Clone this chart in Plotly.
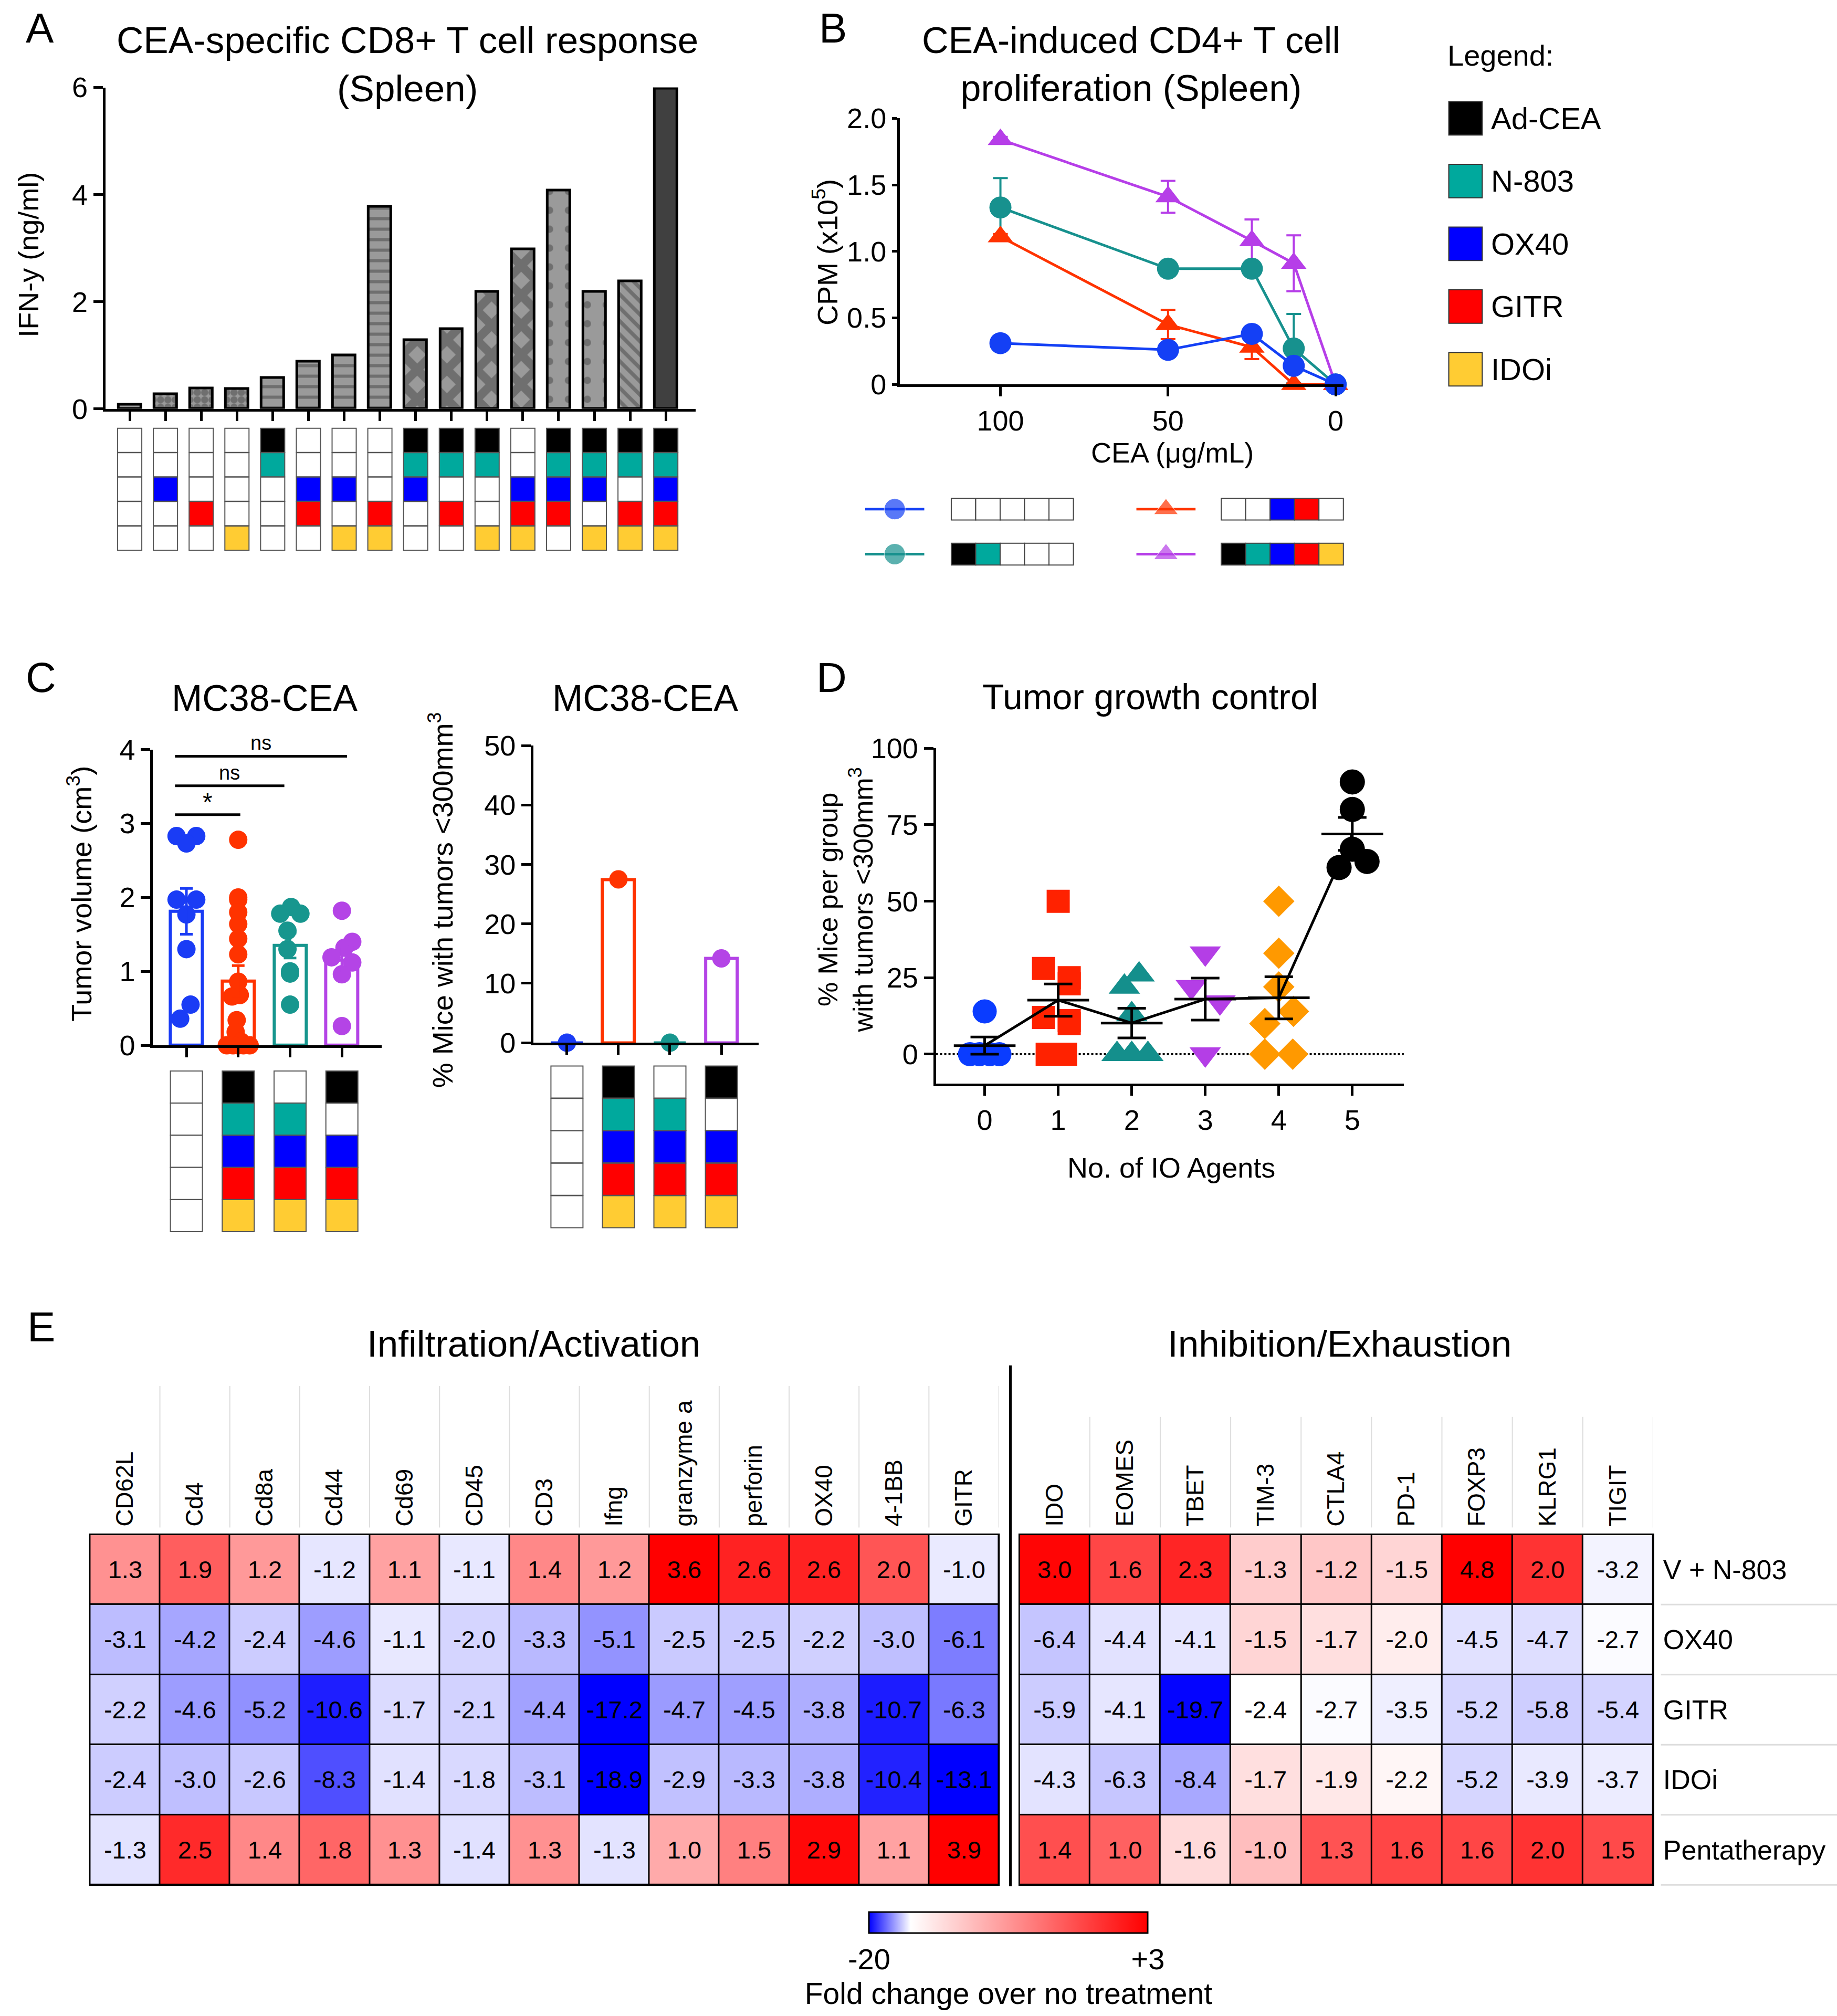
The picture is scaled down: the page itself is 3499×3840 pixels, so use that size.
import numpy as np
import plotly.graph_objects as go

W, H = 3499, 3840
RW, RH = 1429, 1568  # layout grid, same proportions as the figure


def fx(x):
    return x / RW


def fy(y):
    return 1 - y / RH


FONT = "Liberation Sans, Arial, Helvetica, sans-serif"
TICK = 54

# ---------------- shared treatment key ----------------
agents = ["Ad-CEA", "N-803", "OX40", "GITR", "IDOi"]
agent_colors = ["#000000", "#00a99d", "#0000ff", "#ff0000", "#ffcc33"]

# ---------------- A: IFN-y per treatment ----------------
a_ifng = [0.08, 0.28, 0.38, 0.37, 0.58, 0.88, 1.0, 3.78, 1.29, 1.49, 2.19, 2.98, 4.08, 2.19, 2.38, 5.98]
a_combos = ["00000", "00100", "00010", "00001", "11000", "00110", "00101", "00011",
            "11100", "11010", "11001", "00111", "11110", "11101", "11011", "11111"]
a_pattern = ["", ".", ".", ".", "-", "-", "-", "-", "x", "x", "x", "x", ".", ".", "\\", ""]
a_pattern_size = [10, 14, 14, 14, 20, 20, 20, 20, 40, 40, 40, 40, 36, 36, 18, 10]
a_pattern_solid = [0.3, 0.75, 0.75, 0.75, 0.3, 0.3, 0.3, 0.3, 0.65, 0.65, 0.65, 0.65, 0.12, 0.12, 0.4, 0.3]
a_fill = ["#9a9a9a"] * 15 + ["#404040"]

# ---------------- B: CD4 proliferation ----------------
b_conc = [100, 50, 25, 12.5, 0]
b_untreated = [0.31, 0.26, 0.38, 0.14, 0.0]
b_untreated_err = [0.01, 0.01, 0.02, 0.02, 0.0]
b_vn803 = [1.33, 0.87, 0.87, 0.27, 0.0]
b_vn803_err = [0.22, 0.02, 0.02, 0.26, 0.0]
b_ox40_gitr = [1.11, 0.45, 0.28, 0.0, 0.0]
b_ox40_gitr_err = [0.02, 0.11, 0.09, 0.0, 0.0]
b_penta = [1.84, 1.41, 1.08, 0.91, 0.0]
b_penta_err = [0.02, 0.12, 0.16, 0.21, 0.0]
b_combos = ["00000", "11000", "00110", "11111"]

# ---------------- C: tumor volume / % mice ----------------
c_combos = ["00000", "11111", "01111", "10111"]
c_colors = ["#1a3cf5", "#ff3300", "#17968e", "#b444e6"]
c_vol_untreated = [2.83, 2.83, 2.73, 1.97, 1.97, 1.77, 1.30, 0.55, 0.36]
c_jit_untreated = [-0.19, 0.19, 0.0, -0.19, 0.19, 0.0, 0.0, 0.08, -0.12]
c_vol_penta = [2.78, 2.0, 1.97, 1.8, 1.64, 1.44, 1.23, 0.86, 0.68, 0.66, 0.34, 0.18, 0.05, 0, 0, 0, 0, 0]
c_jit_penta = [0, 0, 0, 0, 0, 0, 0, 0, 0.03, -0.12, -0.03, -0.05, 0.05, -0.22, -0.1, 0, 0.1, 0.22]
c_vol_no_vaccine = [1.87, 1.78, 1.78, 1.55, 1.3, 1.0, 0.97, 0.55]
c_jit_no_vaccine = [0.02, -0.19, 0.2, -0.05, -0.05, 0.0, 0.0, 0.0]
c_vol_no_n803 = [1.82, 1.40, 1.32, 1.19, 1.12, 0.96, 0.26]
c_jit_no_n803 = [0.0, 0.2, 0.05, -0.2, 0.2, 0.0, 0.0]
c_pct = [0, 27.5, 0, 14.2]
c_sig_x0 = [-0.22, -0.22, -0.22]
c_sig_x1 = [1.04, 1.89, 3.1]
c_sig_y = [3.12, 3.51, 3.91]
c_sig_text = ["*", "ns", "ns"]

# ---------------- D: tumor growth control ----------------
d_agents = [0, 1, 2, 3, 4, 5]
d_vals = [
    [14, 0, 0, 0, 0],
    [50, 28, 25, 23, 12, 11, 10, 0, 0],
    [26, 22, 13, 0, 0, 0],
    [33, 22, 17, 0],
    [50, 33, 22, 14, 10, 0, 0],
    [89, 80, 67, 61, 63],
]
d_jit = [
    [0, -0.2, -0.07, 0.07, 0.2],
    [0, -0.2, 0.15, 0.15, -0.2, 0.15, 0.15, -0.15, 0.1],
    [0.1, -0.1, 0, -0.2, 0, 0.22],
    [0, -0.19, 0.2, 0],
    [0, 0, 0, 0.2, -0.19, -0.19, 0.19],
    [0, 0, 0, -0.18, 0.2],
]
d_symbols = ["circle", "square", "triangle-up", "triangle-down", "diamond", "circle"]
d_colors = ["#0a3cff", "#ff2200", "#148f8c", "#b43ee6", "#ff9900", "#000000"]
d_sizes = [46, 44, 52, 52, 46, 48]

# ---------------- E: fold change heatmap ----------------
e_rows = ["V + N-803", "OX40", "GITR", "IDOi", "Pentatherapy"]
e_left_cols = ["CD62L", "Cd4", "Cd8a", "Cd44", "Cd69", "CD45", "CD3", "Ifng", "granzyme a",
               "perforin", "OX40", "4-1BB", "GITR"]
e_left = [
    [1.3, 1.9, 1.2, -1.2, 1.1, -1.1, 1.4, 1.2, 3.6, 2.6, 2.6, 2.0, -1.0],
    [-3.1, -4.2, -2.4, -4.6, -1.1, -2.0, -3.3, -5.1, -2.5, -2.5, -2.2, -3.0, -6.1],
    [-2.2, -4.6, -5.2, -10.6, -1.7, -2.1, -4.4, -17.2, -4.7, -4.5, -3.8, -10.7, -6.3],
    [-2.4, -3.0, -2.6, -8.3, -1.4, -1.8, -3.1, -18.9, -2.9, -3.3, -3.8, -10.4, -13.1],
    [-1.3, 2.5, 1.4, 1.8, 1.3, -1.4, 1.3, -1.3, 1.0, 1.5, 2.9, 1.1, 3.9],
]
e_right_cols = ["IDO", "EOMES", "TBET", "TIM-3", "CTLA4", "PD-1", "FOXP3", "KLRG1", "TIGIT"]
e_right = [
    [3.0, 1.6, 2.3, -1.3, -1.2, -1.5, 4.8, 2.0, -3.2],
    [-6.4, -4.4, -4.1, -1.5, -1.7, -2.0, -4.5, -4.7, -2.7],
    [-5.9, -4.1, -19.7, -2.4, -2.7, -3.5, -5.2, -5.8, -5.4],
    [-4.3, -6.3, -8.4, -1.7, -1.9, -2.2, -5.2, -3.9, -3.7],
    [1.4, 1.0, -1.6, -1.0, 1.3, 1.6, 1.6, 2.0, 1.5],
]

fig = go.Figure()
annots = []
shapes = []


def label(text, x, y, size=TICK, xanchor="center", yanchor="middle", angle=0):
    annots.append(dict(text=text, x=fx(x), y=fy(y), xref="paper", yref="paper",
                       xanchor=xanchor, yanchor=yanchor, textangle=angle, showarrow=False,
                       font=dict(size=size, color="black")))


def matrix_trace(combos, xa, ya, size):
    mx, my, mc = [], [], []
    for i, combo in enumerate(combos):
        for r, flag in enumerate(combo):
            mx.append(i)
            my.append(r)
            mc.append(agent_colors[r] if flag == "1" else "white")
    return go.Scatter(x=mx, y=my, mode="markers", xaxis=xa, yaxis=ya, cliponaxis=False,
                      marker=dict(symbol="square", size=size, color=mc,
                                  line=dict(color="#555555", width=2)),
                      hoverinfo="skip", showlegend=False)


# ---- A ----
fig.add_trace(go.Bar(
    x=list(range(len(a_ifng))), y=a_ifng, width=0.63, xaxis="x", yaxis="y",
    marker=dict(color=a_fill, line=dict(color="black", width=5),
                pattern=dict(shape=a_pattern, size=a_pattern_size, solidity=a_pattern_solid,
                             fgcolor="black", fillmode="overlay")),
    showlegend=False))
fig.add_trace(matrix_trace(a_combos, "x2", "y2", 46))

# ---- B ----
b_series = [
    (b_penta, b_penta_err, "#b63ee8", "triangle-up"),
    (b_vn803, b_vn803_err, "#17918e", "circle"),
    (b_ox40_gitr, b_ox40_gitr_err, "#ff3300", "triangle-up"),
    (b_untreated, b_untreated_err, "#1440f5", "circle"),
]
for vals, err, col, sym in b_series:
    fig.add_trace(go.Scatter(
        x=b_conc, y=vals, mode="lines+markers", xaxis="x3", yaxis="y3", cliponaxis=False,
        line=dict(color=col, width=5), marker=dict(symbol=sym, size=42, color=col),
        error_y=dict(type="data", array=err, color=col, thickness=4, width=14),
        showlegend=False))

# B key below the plot (overlay grid coordinates)
b_key = [("#1440f5", "circle", 673, 396, 740),
         ("#17918e", "circle", 673, 431, 740),
         ("#ff3300", "triangle-up", 884, 396, 950),
         ("#b63ee8", "triangle-up", 884, 431, 950)]
for k, (col, sym, x0, yk, sx) in enumerate(b_key):
    fig.add_trace(go.Scatter(x=[x0, x0 + 23, x0 + 46], y=[yk, yk, yk], mode="lines+markers",
                             xaxis="x11", yaxis="y11", line=dict(color=col, width=5),
                             marker=dict(symbol=sym, size=[0, 40, 0], color=col),
                             hoverinfo="skip", showlegend=False))
    for r, flag in enumerate(b_combos[k]):
        shapes.append(dict(type="rect", xref="x11", yref="y11", x0=sx + r * 19, x1=sx + (r + 1) * 19,
                           y0=yk - 8.5, y1=yk + 8.5, fillcolor=agent_colors[r] if flag == "1" else "white",
                           line=dict(color="#444444", width=2)))

# B legend (right)
label("Legend:", 1125, 43, 56, xanchor="left")
for r, name in enumerate(agents):
    yc = 92 + r * 48.8
    shapes.append(dict(type="rect", xref="x11", yref="y11", x0=1127, x1=1153, y0=yc - 13, y1=yc + 13,
                       fillcolor=agent_colors[r], line=dict(color="#333333", width=2)))
    label(name, 1159, yc, 58, xanchor="left")

# ---- C left ----
c_vols = [c_vol_untreated, c_vol_penta, c_vol_no_vaccine, c_vol_no_n803]
c_jits = [c_jit_untreated, c_jit_penta, c_jit_no_vaccine, c_jit_no_n803]
c_mean = [float(np.mean(v)) for v in c_vols]
c_sem = [float(np.std(v, ddof=1) / np.sqrt(len(v))) for v in c_vols]
fig.add_trace(go.Bar(x=[0, 1, 2, 3], y=c_mean, width=0.62, xaxis="x4", yaxis="y4",
                     marker=dict(color="white", line=dict(color=c_colors, width=6)), showlegend=False))
for i, (vals, jit) in enumerate(zip(c_vols, c_jits)):
    fig.add_trace(go.Scatter(x=[i + j for j in jit], y=vals, mode="markers", xaxis="x4", yaxis="y4",
                             cliponaxis=False, marker=dict(size=35, color=c_colors[i]), showlegend=False))
for i in range(4):
    fig.add_trace(go.Scatter(x=[i], y=[c_mean[i]], mode="markers", xaxis="x4", yaxis="y4",
                             marker=dict(size=1, color=c_colors[i], opacity=0),
                             error_y=dict(type="data", array=[c_sem[i]], color=c_colors[i],
                                          thickness=5, width=12), showlegend=False))
for x0, x1, yv, txt in zip(c_sig_x0, c_sig_x1, c_sig_y, c_sig_text):
    fig.add_trace(go.Scatter(x=[x0, x1], y=[yv, yv], mode="lines", xaxis="x4", yaxis="y4",
                             line=dict(color="black", width=5), showlegend=False))
    annots.append(dict(text=txt, x=(x0 + x1) / 2, y=yv, xref="x4", yref="y4", yanchor="bottom",
                       showarrow=False, yshift=-4 if txt == "*" else 2,
                       font=dict(size=48 if txt == "*" else 38, color="black")))
fig.add_trace(matrix_trace(c_combos, "x5", "y5", 61))

# ---- C right ----
fig.add_trace(go.Bar(x=[0, 1, 2, 3], y=c_pct, width=0.62, xaxis="x6", yaxis="y6",
                     marker=dict(color="white", line=dict(color=c_colors, width=6)), showlegend=False))
fig.add_trace(go.Scatter(x=[0, 1, 2, 3], y=c_pct, mode="markers", xaxis="x6", yaxis="y6",
                         cliponaxis=False, marker=dict(size=35, color=c_colors), showlegend=False))
fig.add_trace(matrix_trace(c_combos, "x7", "y7", 61))

# ---- D ----
d_mean = [float(np.mean(v)) for v in d_vals]
d_sem = [float(np.std(v, ddof=1) / np.sqrt(len(v))) for v in d_vals]
for g, vals in enumerate(d_vals):
    fig.add_trace(go.Scatter(x=[d_agents[g] + j for j in d_jit[g]], y=vals, mode="markers",
                             xaxis="x8", yaxis="y8", cliponaxis=False,
                             marker=dict(symbol=d_symbols[g], size=d_sizes[g], color=d_colors[g]),
                             showlegend=False))
fig.add_trace(go.Scatter(x=d_agents, y=d_mean, mode="lines", xaxis="x8", yaxis="y8",
                         line=dict(color="black", width=5), showlegend=False))
fig.add_trace(go.Scatter(x=d_agents, y=d_mean, mode="markers", xaxis="x8", yaxis="y8",
                         marker=dict(symbol="line-ew", size=84, color="black",
                                     line=dict(color="black", width=5)),
                         error_y=dict(type="data", array=d_sem, color="black", thickness=5, width=27),
                         showlegend=False))
shapes.append(dict(type="line", xref="x8 domain", yref="y8", x0=0, x1=1, y0=0, y1=0,
                   line=dict(color="black", width=4, dash="dot"), layer="below"))

# ---- E ----
left_scale = [[0, "#0000ff"], [0.8, "#ffffff"], [1, "#ff0000"]]
right_scale = [[0, "#0000ff"], [0.762, "#ffffff"], [1, "#ff0000"]]
fig.add_trace(go.Heatmap(z=e_left, x=list(range(len(e_left_cols))), y=list(range(5)),
                         colorscale=left_scale, zmin=-12, zmax=3, showscale=False, xgap=3, ygap=3,
                         texttemplate="%{z:.1f}", textfont=dict(size=47, color="black"),
                         xaxis="x9", yaxis="y9"))
fig.add_trace(go.Heatmap(z=e_right, x=list(range(len(e_right_cols))), y=list(range(5)),
                         colorscale=right_scale, zmin=-20, zmax=3.1, showscale=False, xgap=3, ygap=3,
                         texttemplate="%{z:.1f}", textfont=dict(size=47, color="black"),
                         xaxis="x10", yaxis="y10"))
# colour key
fig.add_trace(go.Scatter(
    x=[-3, -3], y=[0, 0], mode="markers", xaxis="x8", yaxis="y8", hoverinfo="skip", showlegend=False,
    marker=dict(size=1, opacity=0, color=[-20, 3], cmin=-20, cmax=3,
                colorscale=[[0, "#0000ff"], [0.15, "#ffffff"], [1, "#ff0000"]], showscale=True,
                colorbar=dict(orientation="h", x=fx(784.5), xanchor="center", y=fy(1487),
                              yanchor="top", len=(893 - 676) / RW, lenmode="fraction",
                              thickness=40, thicknessmode="pixels", outlinecolor="black",
                              outlinewidth=3, xpad=0, ypad=0, tickvals=[-20, 3], ticktext=["-20", "+3"],
                              ticks="", tickfont=dict(size=56, color="black"),
                              title=dict(text="Fold change over no treatment", side="bottom",
                                         font=dict(size=57, color="black"))))))

for (x0, x1) in [(70, 777), (793, 1286)]:
    shapes.append(dict(type="rect", xref="paper", yref="paper", x0=fx(x0) - 0.0005, x1=fx(x1) + 0.0005,
                       y0=fy(1466) - 0.0005, y1=fy(1193.5) + 0.0005, fillcolor="black",
                       line=dict(width=0), layer="below"))
for i in range(len(e_left_cols)):
    shapes.append(dict(type="line", xref="x9", yref="y11", x0=i + 0.5, x1=i + 0.5, y0=1078, y1=1188,
                       line=dict(color="#dddddd", width=2)))
for i in range(len(e_right_cols)):
    shapes.append(dict(type="line", xref="x10", yref="y11", x0=i + 0.5, x1=i + 0.5, y0=1102, y1=1188,
                       line=dict(color="#dddddd", width=2)))
for r in range(5):
    yb = 1193.5 + (r + 1) * 54.5
    shapes.append(dict(type="line", xref="x11", yref="y11", x0=1292, x1=1429, y0=yb, y1=yb,
                       line=dict(color="#dddddd", width=3)))
shapes.append(dict(type="line", xref="x11", yref="y11", x0=786, x1=786, y0=1062, y1=1467,
                   line=dict(color="black", width=5)))

# ---- text ----
for letter, x, y in [("A", 31, 22), ("B", 648, 22), ("C", 32, 527), ("D", 647, 527), ("E", 32, 1032)]:
    label(letter, x, y, 80)
label("CEA-specific CD8+ T cell response<br>(Spleen)", 317, 50, 71)
label("IFN-y (ng/ml)", 22, 198, 54, angle=-90)
label("CEA-induced CD4+ T cell<br>proliferation (Spleen)", 880, 50, 70)
label("CPM (x10<sup>5</sup>)", 642, 196, 54, angle=-90)
label("CEA (μg/mL)", 912, 352, 54)
label("MC38-CEA", 206, 543, 70)
label("Tumor volume (cm<sup>3</sup>)", 62, 695, 54, angle=-90)
label("MC38-CEA", 502, 543, 70)
label("% Mice with tumors &lt;300mm<sup>3</sup>", 343, 700, 54, angle=-90)
label("Tumor growth control", 895, 542, 68)
label("% Mice per group<br>with tumors &lt;300mm<sup>3</sup>", 658, 700, 52, angle=-90)
label("No. of IO Agents", 911, 908, 54)
label("Infiltration/Activation", 415, 1045, 71)
label("Inhibition/Exhaustion", 1042, 1045, 71)


def axis(domain, rng, anchor, **kw):
    base = dict(domain=domain, range=rng, anchor=anchor, showgrid=False, zeroline=False,
                showline=True, linecolor="black", linewidth=5, ticks="outside", ticklen=18,
                tickwidth=5, tickcolor="black", tickfont=dict(size=TICK, color="black"),
                fixedrange=True)
    base.update(kw)
    return base


def hidden(domain, rng, anchor):
    return dict(domain=domain, range=rng, anchor=anchor, visible=False, fixedrange=True)


fig.update_layout(
    width=W, height=H, margin=dict(l=0, r=0, t=0, b=0, autoexpand=False),
    paper_bgcolor="white", plot_bgcolor="rgba(0,0,0,0)",
    font=dict(family=FONT, color="black"), showlegend=False, bargap=0,
    xaxis=axis([fx(82), fx(541)], [-0.68, 15.83], "y", tickvals=list(range(16)), showticklabels=False),
    yaxis=axis([fy(318), fy(68)], [0, 6], "x", tickvals=[0, 2, 4, 6]),
    xaxis2=hidden([fx(82), fx(541)], [-0.68, 15.83], "y2"),
    yaxis2=hidden([fy(428), fy(333)], [4.5, -0.5], "x2"),
    xaxis3=axis([fx(700), fx(1045)], [130, -2.3], "y3", tickvals=[100, 50, 0]),
    yaxis3=axis([fy(299), fy(92)], [0, 2.0], "x3", tickvals=[0, 0.5, 1, 1.5, 2],
                ticktext=["0", "0.5", "1.0", "1.5", "2.0"], ticklen=10),
    xaxis4=axis([fx(119), fx(297)], [-0.645, 3.77], "y4", tickvals=[0, 1, 2, 3], showticklabels=False),
    yaxis4=axis([fy(813), fy(583)], [0, 4], "x4", tickvals=[0, 1, 2, 3, 4]),
    xaxis5=hidden([fx(119), fx(297)], [-0.645, 3.77], "y5"),
    yaxis5=hidden([fy(958), fy(833)], [4.5, -0.5], "x5"),
    xaxis6=axis([fx(415), fx(590)], [-0.65, 3.72], "y6", tickvals=[0, 1, 2, 3], showticklabels=False),
    yaxis6=axis([fy(811), fy(580)], [0, 50], "x6", tickvals=[0, 10, 20, 30, 40, 50]),
    xaxis7=hidden([fx(415), fx(590)], [-0.65, 3.72], "y7"),
    yaxis7=hidden([fy(955), fy(829)], [4.5, -0.5], "x7"),
    xaxis8=axis([fx(728), fx(1092)], [-0.664, 5.70], "y8", tickvals=d_agents),
    yaxis8=axis([fy(843), fy(582)], [-9.7, 100], "x8", tickvals=[0, 25, 50, 75, 100]),
    xaxis9=dict(domain=[fx(70), fx(777)], range=[-0.5, 12.5], anchor="y9", side="top",
                tickvals=list(range(len(e_left_cols))), ticktext=e_left_cols, tickangle=-90,
                showline=False, ticks="", showgrid=False, zeroline=False, ticklabelstandoff=14,
                tickfont=dict(size=46, color="black"), fixedrange=True),
    yaxis9=dict(domain=[fy(1466), fy(1193.5)], range=[4.5, -0.5], anchor="x9", visible=False),
    xaxis10=dict(domain=[fx(793), fx(1286)], range=[-0.5, 8.5], anchor="y10", side="top",
                 tickvals=list(range(len(e_right_cols))), ticktext=e_right_cols, tickangle=-90,
                 showline=False, ticks="", showgrid=False, zeroline=False, ticklabelstandoff=14,
                 tickfont=dict(size=46, color="black"), fixedrange=True),
    yaxis10=dict(domain=[fy(1466), fy(1193.5)], range=[4.5, -0.5], anchor="x10", side="right",
                 tickvals=list(range(5)), ticktext=e_rows, showline=False, ticks="", showgrid=False,
                 zeroline=False, ticklabelstandoff=18, tickfont=dict(size=52, color="black"),
                 fixedrange=True),
    xaxis11=hidden([0, 1], [0, RW], "y11"),
    yaxis11=hidden([0, 1], [RH, 0], "x11"),
    annotations=annots,
    shapes=shapes,
)

fig.write_html("out.html", config={"displayModeBar": False},
               post_script="document.body.style.margin='0px';")
